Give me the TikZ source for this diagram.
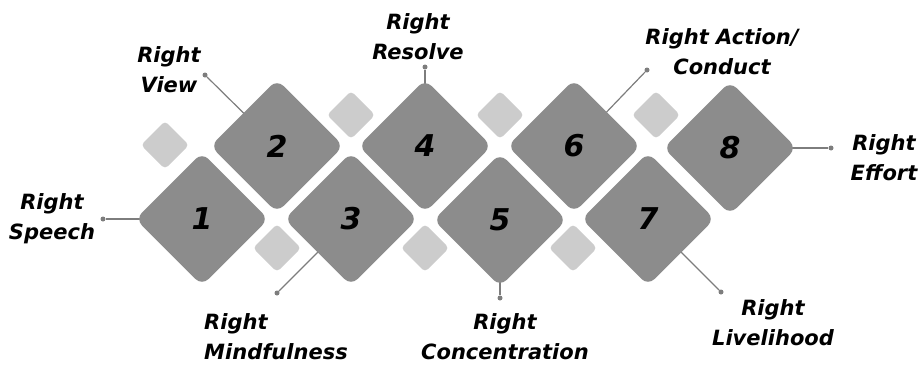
\documentclass[tikz,border=0pt]{standalone}
\usepackage{fontspec}
\setmainfont{DejaVu Sans}
\usetikzlibrary{shapes.geometric,backgrounds}

\definecolor{tilegray}{RGB}{140,140,140}
\definecolor{chipgray}{RGB}{204,204,204}
\definecolor{leadgray}{RGB}{125,125,125}

\begin{document}
\begin{tikzpicture}[
  x=1pt, y=-1pt,
  tile/.style={diamond, aspect=1, fill=tilegray, rounded corners=9pt, inner sep=0pt, outer sep=0pt,
    minimum width=133pt, minimum height=133pt, font=\fontsize{30}{30}\selectfont\bfseries\itshape},
  chip/.style={diamond, aspect=1, fill=chipgray, rounded corners=4pt, inner sep=0pt, outer sep=0pt,
    minimum width=48pt, minimum height=48pt},
  pin/.style={circle, fill=leadgray, inner sep=0pt, minimum size=5pt},
  lead/.style={draw=leadgray, line width=1.2pt},
  label/.style={align=center, font=\fontsize{21}{30}\selectfont\bfseries\itshape}
]
\useasboundingbox (0,0) rectangle (922,367);

% small light squares
\node[chip] (c1) at (165,145) {};
\node[chip] (c2) at (351,115) {};
\node[chip] (c3) at (500,115) {};
\node[chip] (c4) at (656,115) {};
\node[chip] (c5) at (277,248) {};
\node[chip] (c6) at (425,248) {};
\node[chip] (c7) at (573,248) {};

% the eight tiles
\node[tile] (t1) at (202,219) {1};
\node[tile] (t2) at (277,146) {2};
\node[tile] (t3) at (351,219) {3};
\node[tile] (t4) at (425,146) {4};
\node[tile] (t5) at (500,220) {5};
\node[tile] (t6) at (574,146) {6};
\node[tile] (t7) at (648,219) {7};
\node[tile] (t8) at (730,148) {8};

% pins
\node[pin] (p1) at (103,219) {};
\node[pin] (p2) at (205,75) {};
\node[pin] (p3) at (277,293) {};
\node[pin] (p4) at (425,67) {};
\node[pin] (p5) at (500,298) {};
\node[pin] (p6) at (647,70) {};
\node[pin] (p7) at (721,292) {};
\node[pin] (p8) at (831,148) {};

\begin{scope}[on background layer]
  \foreach \i in {1,...,8}
    \draw[lead] (t\i.center) -- (p\i);
\end{scope}

% labels
\node[label] (l1) at (52,219) {Right\\Speech};
\node[label] (l2) at (169,70) {Right\\View};
\node[label, align=left] (l3) at (276,337) {Right\\Mindfulness};
\node[label] (l4) at (418,37) {Right\\Resolve};
\node[label] (l5) at (505,337) {Right\\Concentration};
\node[label] (l6) at (722,52) {Right Action/\\Conduct};
\node[label] (l7) at (773,323) {Right\\Livelihood};
\node[label] (l8) at (884,158) {Right\\Effort};

\end{tikzpicture}
\end{document}
